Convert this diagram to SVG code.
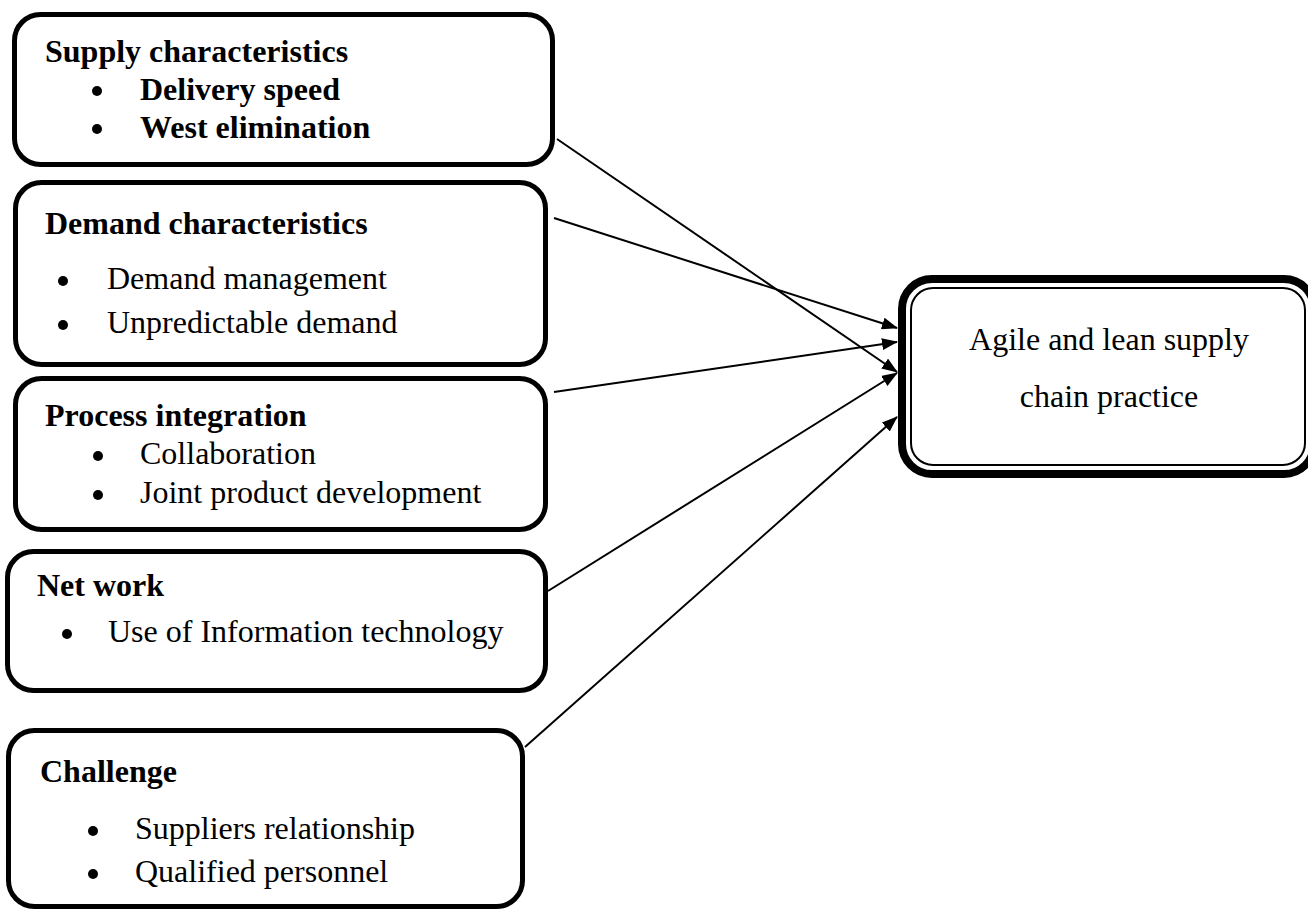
<svg xmlns="http://www.w3.org/2000/svg" width="1308" height="911" viewBox="0 0 1308 911">
  <style>
    .box { fill: #ffffff; stroke: #000000; stroke-width: 5; }
    .t { font-family: "Liberation Serif", "Times New Roman", serif; font-size: 32px; fill: #000000; }
    .b { font-weight: bold; }
    .bul { fill: #000000; }
    .conn { stroke: #000000; stroke-width: 2; fill: none; marker-end: url(#arrow); }
  </style>
  <defs>
    <marker id="arrow" viewBox="0 0 16 12" refX="15" refY="6" markerWidth="16" markerHeight="12" markerUnits="userSpaceOnUse" orient="auto">
      <path d="M0,0 L16,6 L0,12 Z" fill="#000000"/>
    </marker>
  </defs>
  <rect width="1308" height="911" fill="#ffffff"/>

  <g id="supply">
    <rect class="box" x="14.5" y="14.5" width="538" height="150" rx="26" ry="26"/>
    <text class="t b" x="45" y="62">Supply characteristics</text>
    <circle class="bul" cx="97" cy="91" r="5"/>
    <text class="t b" x="140" y="100">Delivery speed</text>
    <circle class="bul" cx="97" cy="129" r="5"/>
    <text class="t b" x="140" y="138">West elimination</text>
  </g>

  <g id="demand">
    <rect class="box" x="15.5" y="182.5" width="530" height="182" rx="26" ry="26"/>
    <text class="t b" x="45" y="234">Demand characteristics</text>
    <circle class="bul" cx="63" cy="281" r="5"/>
    <text class="t" x="107" y="289">Demand management</text>
    <circle class="bul" cx="63" cy="325" r="5"/>
    <text class="t" x="107" y="333">Unpredictable demand</text>
  </g>

  <g id="process">
    <rect class="box" x="15.5" y="378.5" width="530" height="151" rx="26" ry="26"/>
    <text class="t b" x="45" y="426">Process integration</text>
    <circle class="bul" cx="98" cy="456" r="5"/>
    <text class="t" x="140" y="464">Collaboration</text>
    <circle class="bul" cx="98" cy="495" r="5"/>
    <text class="t" x="140" y="503">Joint product development</text>
  </g>

  <g id="network">
    <rect class="box" x="7.5" y="551.5" width="538" height="139" rx="26" ry="26"/>
    <text class="t b" x="37" y="596">Net work</text>
    <circle class="bul" cx="67" cy="634" r="5"/>
    <text class="t" x="108" y="642">Use of Information technology</text>
  </g>

  <g id="challenge">
    <rect class="box" x="8.5" y="730.5" width="514" height="176" rx="26" ry="26"/>
    <text class="t b" x="40" y="782">Challenge</text>
    <circle class="bul" cx="93" cy="831" r="5"/>
    <text class="t" x="135" y="839">Suppliers relationship</text>
    <circle class="bul" cx="93" cy="874" r="5"/>
    <text class="t" x="135" y="882">Qualified personnel</text>
  </g>

  <g id="practice">
    <rect x="902" y="279" width="412" height="195" rx="30" ry="30" fill="#ffffff" stroke="#000000" stroke-width="8"/>
    <rect x="911" y="288" width="394" height="177" rx="22" ry="22" fill="none" stroke="#000000" stroke-width="2"/>
    <text class="t" x="1109" y="350" text-anchor="middle">Agile and lean supply</text>
    <text class="t" x="1109" y="407" text-anchor="middle">chain practice</text>
  </g>

  <g id="connectors">
    <line class="conn" x1="557" y1="139" x2="897" y2="372"/>
    <line class="conn" x1="554" y1="218" x2="897" y2="328"/>
    <line class="conn" x1="554" y1="392" x2="897" y2="342"/>
    <line class="conn" x1="548" y1="591" x2="897" y2="373"/>
    <line class="conn" x1="525" y1="747" x2="897" y2="417"/>
  </g>
</svg>
